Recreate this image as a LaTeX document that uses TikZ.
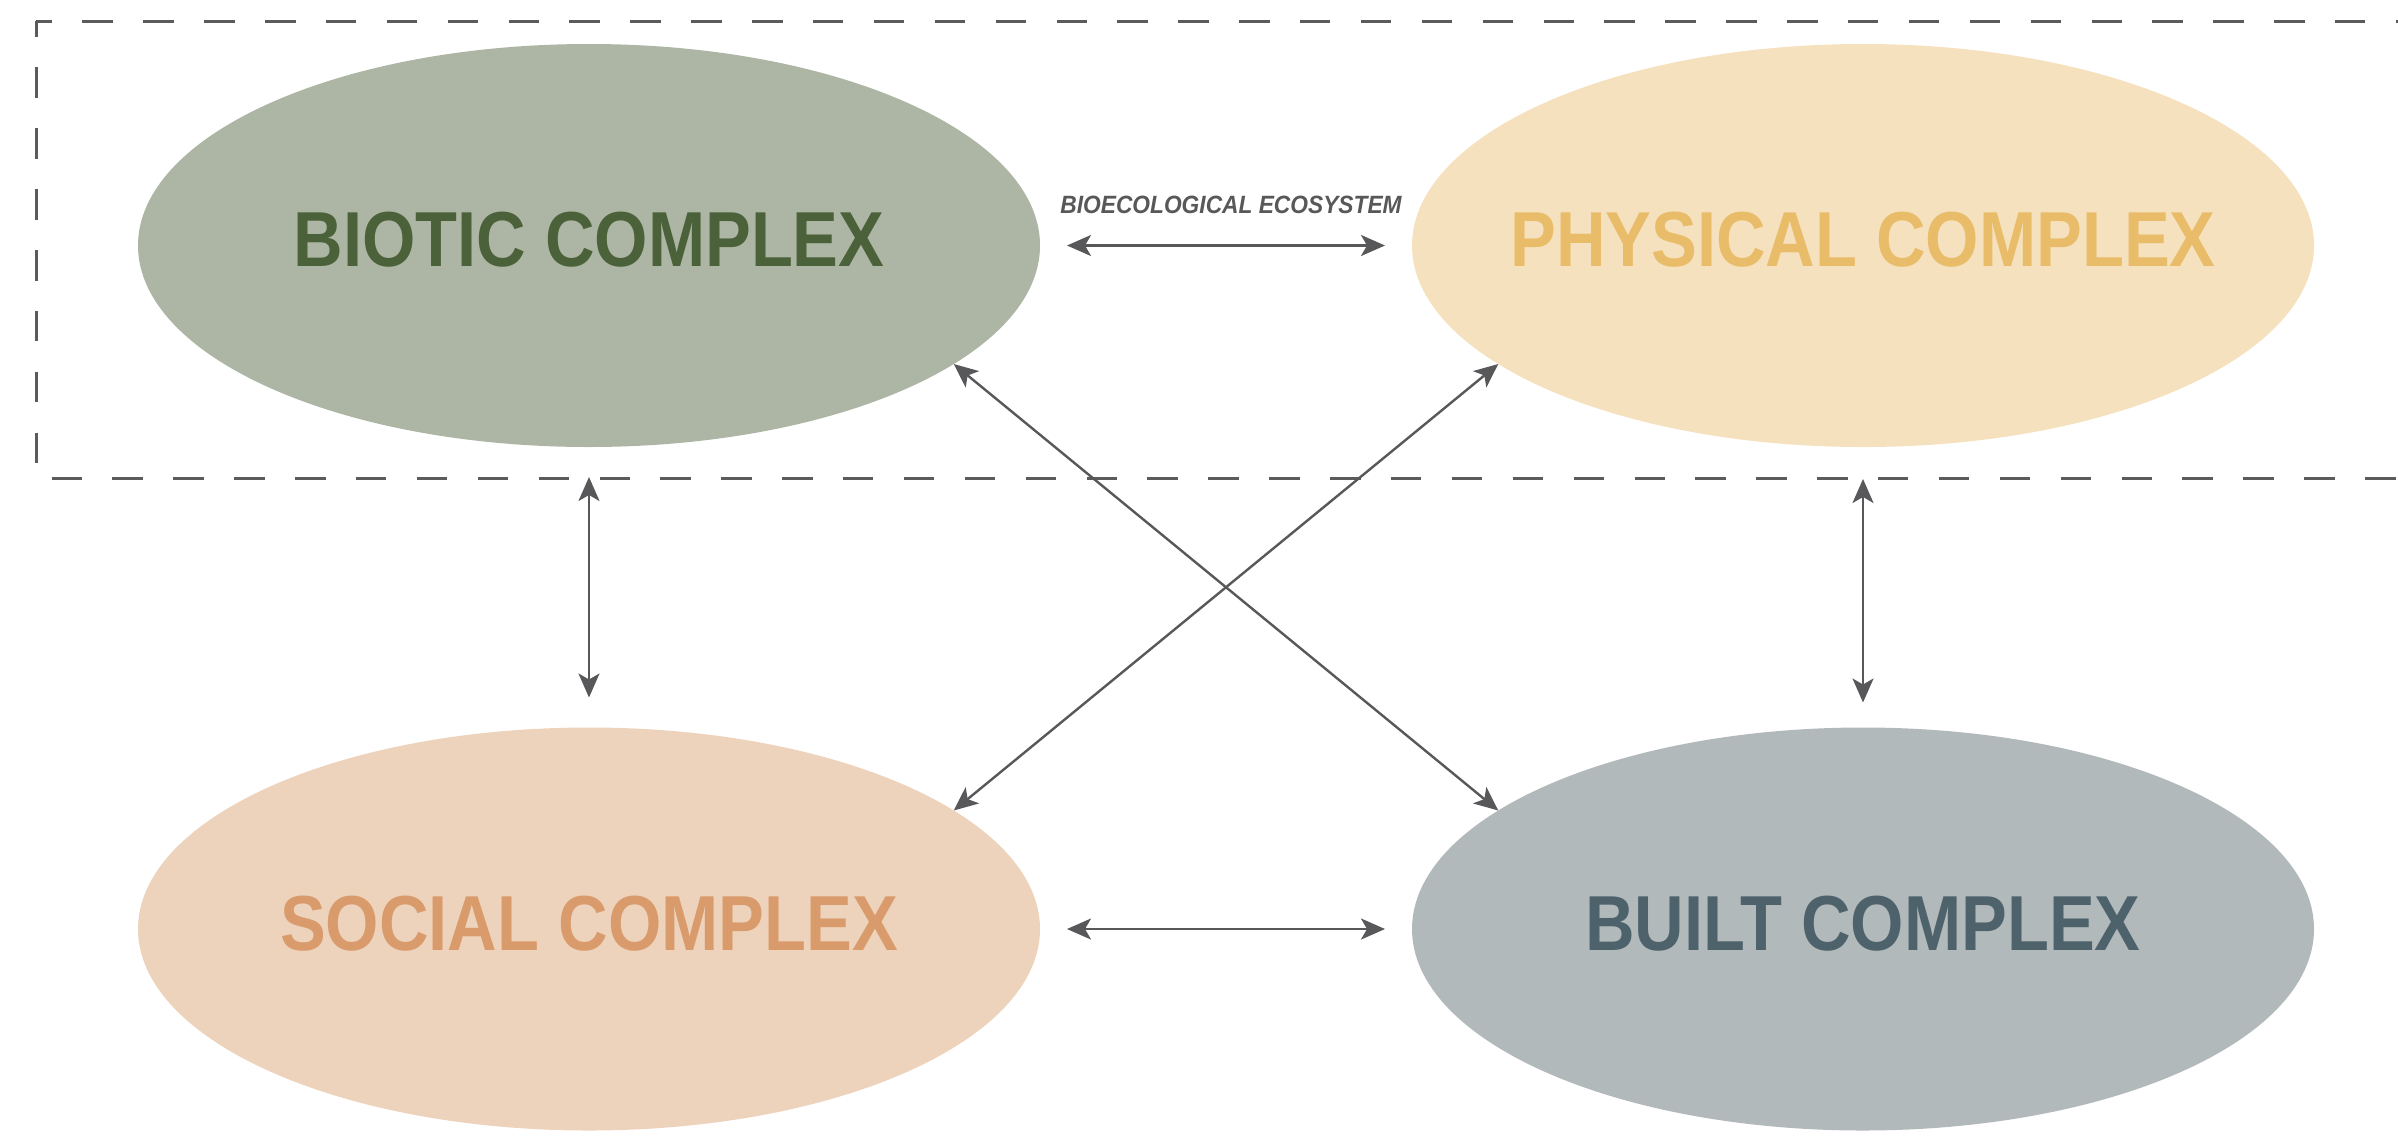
\documentclass[tikz,border=0pt]{standalone}
\usepackage{fontspec}
\usetikzlibrary{shapes.geometric,arrows.meta}

% Condensed bold sans for the four complex titles and the frame caption
\newfontfamily\complexfont{Liberation Sans}[FakeStretch=0.88]
\newfontfamily\ecofont{Liberation Sans}[FakeStretch=0.91]

\definecolor{bioFill}{HTML}{ADB6A4}
\definecolor{bioText}{HTML}{4B6139}
\definecolor{phyFill}{HTML}{F5E1BD}
\definecolor{phyText}{HTML}{E9BC6A}
\definecolor{socFill}{HTML}{EDD3BC}
\definecolor{socText}{HTML}{D99B6B}
\definecolor{bltFill}{HTML}{B2B9BB}
\definecolor{bltText}{HTML}{4D626B}
\definecolor{linkgray}{HTML}{58585A}
\definecolor{framegray}{HTML}{5B5B5B}

\begin{document}
\begin{tikzpicture}[x=0.5pt,y=-0.5pt,
  blob/.style={ellipse, minimum width=451pt, minimum height=201.5pt,
               inner sep=0pt, outer sep=0pt, draw=none},
  cplxtext/.style={font=\complexfont\bfseries\fontsize{39}{39}\selectfont,
                   inner sep=0pt, outer sep=0pt},
  ecotext/.style={font=\ecofont\bfseries\itshape\fontsize{12.5}{12.5}\selectfont,
                  text=linkgray, inner sep=0pt, outer sep=0pt},
  relarrow/.style={draw=linkgray, line width=1.2pt,
    {Stealth[length=12pt,width=10.5pt,inset=3pt]}-{Stealth[length=12pt,width=10.5pt,inset=3pt]}},
  ecoframe/.style={draw=framegray, line width=1.5pt,
                   dash pattern=on 15.22pt off 15.22pt, dash phase=7.22pt}]

\useasboundingbox (0,0) rectangle (2398,1142);

% the four complexes
\node[blob, fill=bioFill] (bio) at (589,245.5) {};
\node[blob, fill=phyFill] (phy) at (1863,245.5) {};
\node[blob, fill=socFill] (soc) at (589,929) {};
\node[blob, fill=bltFill] (blt) at (1863,929) {};

\node[cplxtext, text=bioText] (biotxt) at ([yshift=2.75pt]bio.center) {BIOTIC COMPLEX};
\node[cplxtext, text=phyText] (phytxt) at ([yshift=2.75pt]phy.center) {PHYSICAL COMPLEX};
\node[cplxtext, text=socText] (soctxt) at ([yshift=2.75pt]soc.center) {SOCIAL COMPLEX};
\node[cplxtext, text=bltText] (blttxt) at ([yshift=2.75pt]blt.center) {BUILT COMPLEX};

% dashed frame around the bioecological ecosystem (open to the right)
\coordinate (frTL) at (36,21);
\coordinate (frBL) at (36,478);
\coordinate (frTR) at (2410,21);
\coordinate (frBR) at (2410,478);
\draw[ecoframe] (frTL) -- (frTR);
\draw[ecoframe] (frTL) -- (frBL) -- (frBR);

% relations between the complexes
\draw[relarrow, shorten <=13.5pt, shorten >=13.5pt] (bio) --
  node[ecotext, above=16pt, xshift=2.5pt] (ecolbl) {BIOECOLOGICAL ECOSYSTEM} (phy);
\draw[relarrow, shorten <=13.5pt, shorten >=13.5pt] (soc) -- (blt);
\draw[relarrow, shorten <=15pt, shorten >=15pt] (bio) -- (soc);
\draw[relarrow, shorten <=16pt, shorten >=12.5pt] (phy) -- (blt);
\draw[relarrow] (bio.-18.5) -- (blt.162);
\draw[relarrow] (phy.198.5) -- (soc.18);

\end{tikzpicture}
\end{document}
